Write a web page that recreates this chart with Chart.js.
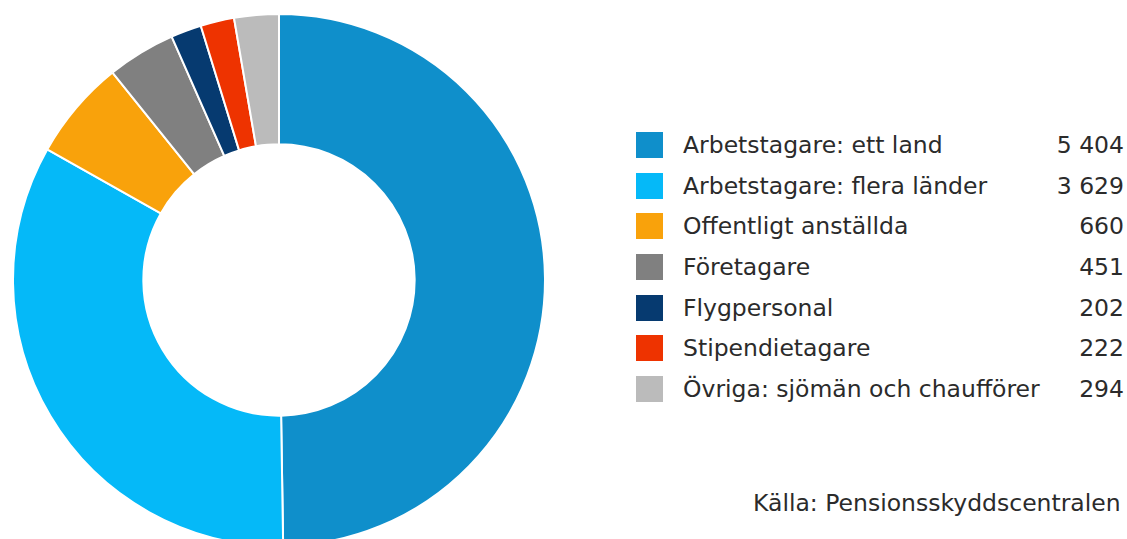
<!DOCTYPE html>
<html>
<head>
<meta charset="utf-8">
<script src="https://cdn.jsdelivr.net/npm/chart.js@4"></script>
<style>
  html, body { margin: 0; padding: 0; background: #fff; overflow: hidden; }
  body { width: 1127px; height: 539px; position: relative; font-family: "DejaVu Sans", Verdana, sans-serif; color: #2b2b2b; }
  #chartBox { position: absolute; left: 12px; top: 13px; width: 534px; height: 534px; }
  #legend { position: absolute; left: 636px; top: 125px; width: 488px; }
  .row { display: flex; align-items: center; height: 40.6px; font-size: 23.5px; }
  .box { width: 27px; height: 26px; margin-right: 20px; flex: none; }
  .label { flex: 1; white-space: nowrap; }
  .value { text-align: right; white-space: nowrap; }
  #source { position: absolute; left: 753px; top: 489px; font-size: 23.5px; white-space: nowrap; }
</style>
</head>
<body>
<div id="chartBox"><canvas id="donutChart"></canvas></div>
<div id="legend"></div>
<div id="source">Källa: Pensionsskyddscentralen</div>
<script>
const categories = [
  "Arbetstagare: ett land",
  "Arbetstagare: flera länder",
  "Offentligt anställda",
  "Företagare",
  "Flygpersonal",
  "Stipendietagare",
  "Övriga: sjömän och chaufförer"
];
const values = [5404, 3629, 660, 451, 202, 222, 294];
const valueLabels = ["5 404", "3 629", "660", "451", "202", "222", "294"];
const colors = ["#0f8fcb", "#05b9f8", "#f9a20b", "#808080", "#063a70", "#ee3300", "#bbbbbb"];

document.addEventListener("DOMContentLoaded", () => {
  const ctx = document.getElementById("donutChart").getContext("2d");

  new Chart(ctx, {
    type: "doughnut",
    data: {
      labels: categories,
      datasets: [{
        data: values,
        backgroundColor: colors,
        borderColor: "#fff",
        borderWidth: 2
      }]
    },
    options: {
      responsive: true,
      maintainAspectRatio: false,
      animation: false,
      cutout: "51%",
      layout: { padding: 0 },
      plugins: {
        legend: { display: false },
        tooltip: { enabled: false }
      }
    }
  });

  // legend built from the same arrays
  const legend = document.getElementById("legend");
  categories.forEach((name, i) => {
    const row = document.createElement("div");
    row.className = "row";
    row.innerHTML =
      '<div class="box" style="background:' + colors[i] + '"></div>' +
      '<div class="label">' + name + '</div>' +
      '<div class="value">' + valueLabels[i] + '</div>';
    legend.appendChild(row);
  });
});
</script>
</body>
</html>
